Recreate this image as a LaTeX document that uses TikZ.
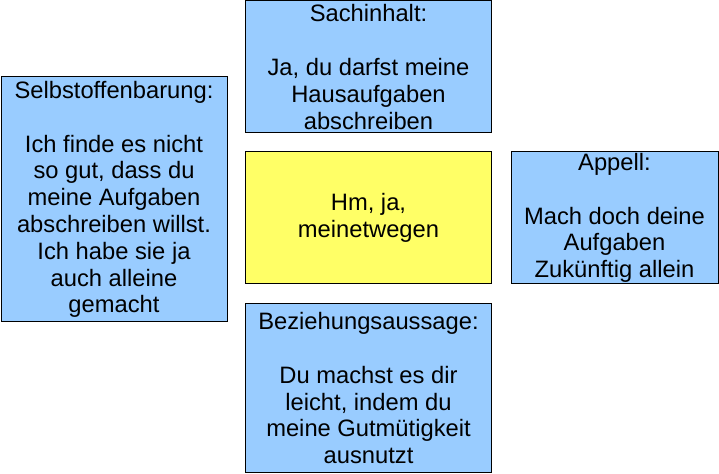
\documentclass[tikz,border=0pt]{standalone}
\usepackage{fontspec}
\setmainfont{Liberation Sans}
\definecolor{sideblue}{HTML}{99CCFF}
\definecolor{msgyellow}{HTML}{FFFF66}
\begin{document}
\begin{tikzpicture}[
        x=0.75pt, y=-0.75pt,
        aspect/.style={rectangle, draw=black, line width=0.75pt, fill=sideblue, align=center, inner sep=0pt, font=\fontsize{17.8}{20.1}\selectfont},
        message/.style={aspect, fill=msgyellow}
    ]
        \useasboundingbox (0,0) rectangle (719,474);
        
        % Message in the middle
        \node[message, minimum width=184.5pt, minimum height=99pt] (msg) at (368.5, 218) {Hm, ja,\\meinetwegen};
        
        % Four sides of the message
        \node[aspect, minimum width=184.5pt, minimum height=99pt] (sach) at (368.5, 67) {Sachinhalt:\\[20.1pt]Ja, du darfst meine\\Hausaufgaben\\abschreiben};
        \node[aspect, minimum width=169.5pt, minimum height=183.75pt] (selbst) at (114, 199.5) {Selbstoffenbarung:\\[20.1pt]Ich finde es nicht\\so gut, dass du\\meine Aufgaben\\abschreiben willst.\\Ich habe sie ja\\auch alleine\\gemacht};
        \node[aspect, minimum width=155.25pt, minimum height=99pt] (appell) at (614.5, 218) {Appell:\\[20.1pt]Mach doch deine\\Aufgaben\\Zukünftig allein};
        \node[aspect, minimum width=184.5pt, minimum height=127.1pt] (bez) at (368.5, 388.25) {Beziehungsaussage:\\[20.1pt]Du machst es dir\\leicht, indem du\\meine Gutmütigkeit\\ausnutzt};
        
    \end{tikzpicture}
\end{document}
